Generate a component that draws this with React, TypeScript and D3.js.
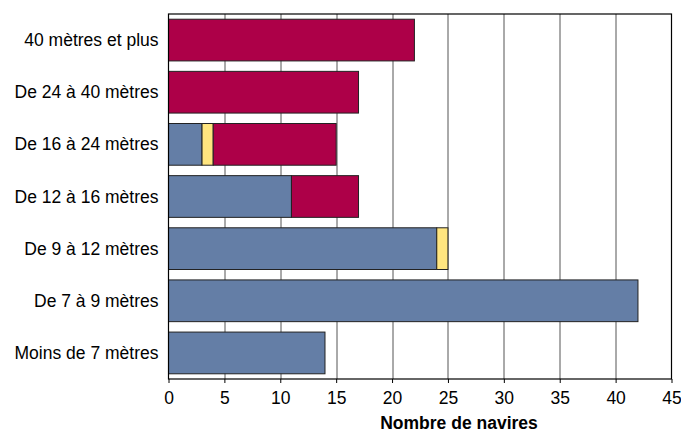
import { useRef, useEffect } from 'react';
import * as d3 from 'd3';

const CATEGORIES = [
  '40 mètres et plus',
  'De 24 à 40 mètres',
  'De 16 à 24 mètres',
  'De 12 à 16 mètres',
  'De 9 à 12 mètres',
  'De 7 à 9 mètres',
  'Moins de 7 mètres',
];

const SERIES = ['serie1', 'serie2', 'serie3'];
const SERIE1 = [0, 0, 3, 11, 24, 42, 14];
const SERIE2 = [0, 0, 1, 0, 1, 0, 0];
const SERIE3 = [22, 17, 11, 6, 0, 0, 0];

const COLORS: Record<string, string> = {
  serie1: '#647ea6',
  serie2: '#ffe57f',
  serie3: '#ad0048',
};

const X_TICKS = [0, 5, 10, 15, 20, 25, 30, 35, 40, 45];

const FONT = 'Liberation Sans, Arial, sans-serif';

export default function App() {
  const svgRef = useRef<SVGSVGElement>(null);
  const width = 681;
  const height = 432;

  useEffect(() => {
    if (!svgRef.current) return;
    const svg = d3.select(svgRef.current);
    svg.selectAll('*').remove();

    const margin = { top: 14, right: 9.5, bottom: 53, left: 168.5 };
    const w = width - margin.left - margin.right;
    const h = height - margin.top - margin.bottom;

    const g = svg
      .append('g')
      .attr('transform', `translate(${margin.left},${margin.top})`);

    const rows = CATEGORIES.map((c, i) => ({
      cat: c,
      serie1: SERIE1[i],
      serie2: SERIE2[i],
      serie3: SERIE3[i],
    }));

    const series = d3.stack<(typeof rows)[0]>().keys(SERIES)(rows);

    const x = d3.scaleLinear().domain([0, 45]).range([0, w]);
    const y = d3
      .scaleBand()
      .domain(CATEGORIES)
      .range([0, h])
      .paddingInner(0.2)
      .paddingOuter(0.1);

    // grid
    g.selectAll('line.grid')
      .data(X_TICKS.slice(1, -1))
      .join('line')
      .attr('class', 'grid')
      .attr('x1', (d) => Math.round(x(d)) + 0.5)
      .attr('x2', (d) => Math.round(x(d)) + 0.5)
      .attr('y1', 0)
      .attr('y2', h)
      .attr('stroke', '#555')
      .attr('stroke-width', 1);

    // bars
    series.forEach((s) => {
      g.append('g')
        .selectAll('rect')
        .data(s.filter((d) => d[1] - d[0] > 0))
        .join('rect')
        .attr('x', (d) => x(d[0]))
        .attr('y', (d) => y(d.data.cat)!)
        .attr('width', (d) => x(d[1]) - x(d[0]))
        .attr('height', y.bandwidth())
        .attr('fill', COLORS[s.key])
        .attr('stroke', '#222')
        .attr('stroke-width', 1);
    });

    // frame
    g.append('rect')
      .attr('x', 0)
      .attr('y', 0)
      .attr('width', w)
      .attr('height', h)
      .attr('fill', 'none')
      .attr('stroke', '#000')
      .attr('stroke-width', 1.2);

    // x axis
    const xAxis = g
      .append('g')
      .attr('transform', `translate(0,${h})`)
      .call(d3.axisBottom(x).tickValues(X_TICKS).tickSize(4).tickPadding(9));
    xAxis.select('.domain').remove();
    xAxis.selectAll('.tick line').attr('stroke', '#000');
    xAxis
      .selectAll('text')
      .attr('fill', '#000')
      .attr('font-size', '17.5px')
      .attr('font-family', FONT);

    // y labels
    g.selectAll('text.cat')
      .data(CATEGORIES)
      .join('text')
      .attr('class', 'cat')
      .attr('x', -10)
      .attr('y', (d) => y(d)! + y.bandwidth() / 2)
      .attr('dy', '0.35em')
      .attr('text-anchor', 'end')
      .attr('font-size', '17.5px')
      .attr('font-family', FONT)
      .attr('fill', '#000')
      .text((d) => d);

    // axis title
    svg
      .append('text')
      .attr('x', 459)
      .attr('y', 429)
      .attr('text-anchor', 'middle')
      .attr('font-size', '17.5px')
      .attr('font-weight', 'bold')
      .attr('font-family', FONT)
      .attr('fill', '#000')
      .text('Nombre de navires');
  }, []);

  return (
    <svg
      ref={svgRef}
      width={width}
      height={height}
      style={{ position: 'absolute', left: 0, top: 0 }}
    />
  );
}
